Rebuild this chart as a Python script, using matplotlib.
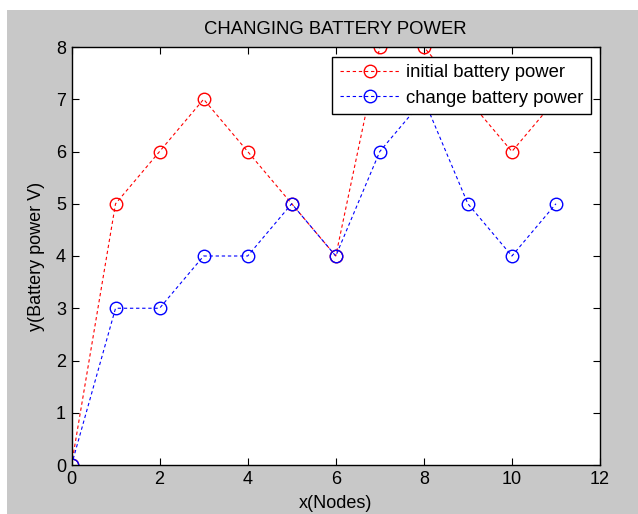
import matplotlib.pyplot as plt
from matplotlib.patches import Rectangle

plt.rcParams['font.family'] = ['Liberation Sans', 'DejaVu Sans']

nodes = [0, 1, 2, 3, 4, 5, 6, 7, 8, 9, 10, 11]
initial_power = [0, 5, 6, 7, 6, 5, 4, 8, 8, 7, 6, 7]
changed_power = [0, 3, 3, 4, 4, 5, 4, 6, 7, 5, 4, 5]

W, H = 638, 514
fig = plt.figure(figsize=(W / 100, H / 100), dpi=100, facecolor='white')
# grey window area, white strip at top and left
fig.patches.append(Rectangle((7 / W, 0), 1 - 7 / W, 1 - 10 / H,
                             transform=fig.transFigure, facecolor='#c8c8c8',
                             edgecolor='none', zorder=-1))

ax = fig.add_axes([71.5 / W, 1 - 465 / H, (600 - 71.5) / W, (465 - 47) / H])
ax.plot(nodes, initial_power, 'r--o', markerfacecolor='none', markersize=9,
        linewidth=0.8, markeredgewidth=1.0, dashes=(3, 2.5), label='initial battery power')
ax.plot(nodes, changed_power, 'b--o', markerfacecolor='none', markersize=9,
        linewidth=0.8, markeredgewidth=1.0, dashes=(3, 2.5), label='change battery power')

ax.set_xlim(0, 12)
ax.set_ylim(0, 8)
ax.set_xticks(range(0, 13, 2))
ax.set_yticks(range(0, 9))
ax.tick_params(direction='in', top=True, right=True, length=5, labelsize=13, pad=4)
for s in ax.spines.values():
    s.set_linewidth(1.0)
for lbl in ax.get_xticklabels() + ax.get_yticklabels():
    lbl.set_clip_on(False)

ax.set_title('CHANGING BATTERY POWER', fontsize=13.3, pad=9)
ax.set_xlabel('x(Nodes)', fontsize=13, labelpad=5)
ax.set_ylabel('y(Battery power V)', fontsize=13, labelpad=8)

leg = ax.legend(loc='upper right', bbox_to_anchor=(0.983, 0.976), fontsize=13.3,
                fancybox=False, framealpha=1, edgecolor='black', borderpad=0.4,
                handlelength=3.3, handletextpad=0.3, labelspacing=0.45,
                borderaxespad=0)
leg.get_frame().set_linewidth(1.0)

fig.savefig('out.png', dpi=100, facecolor=fig.get_facecolor())
